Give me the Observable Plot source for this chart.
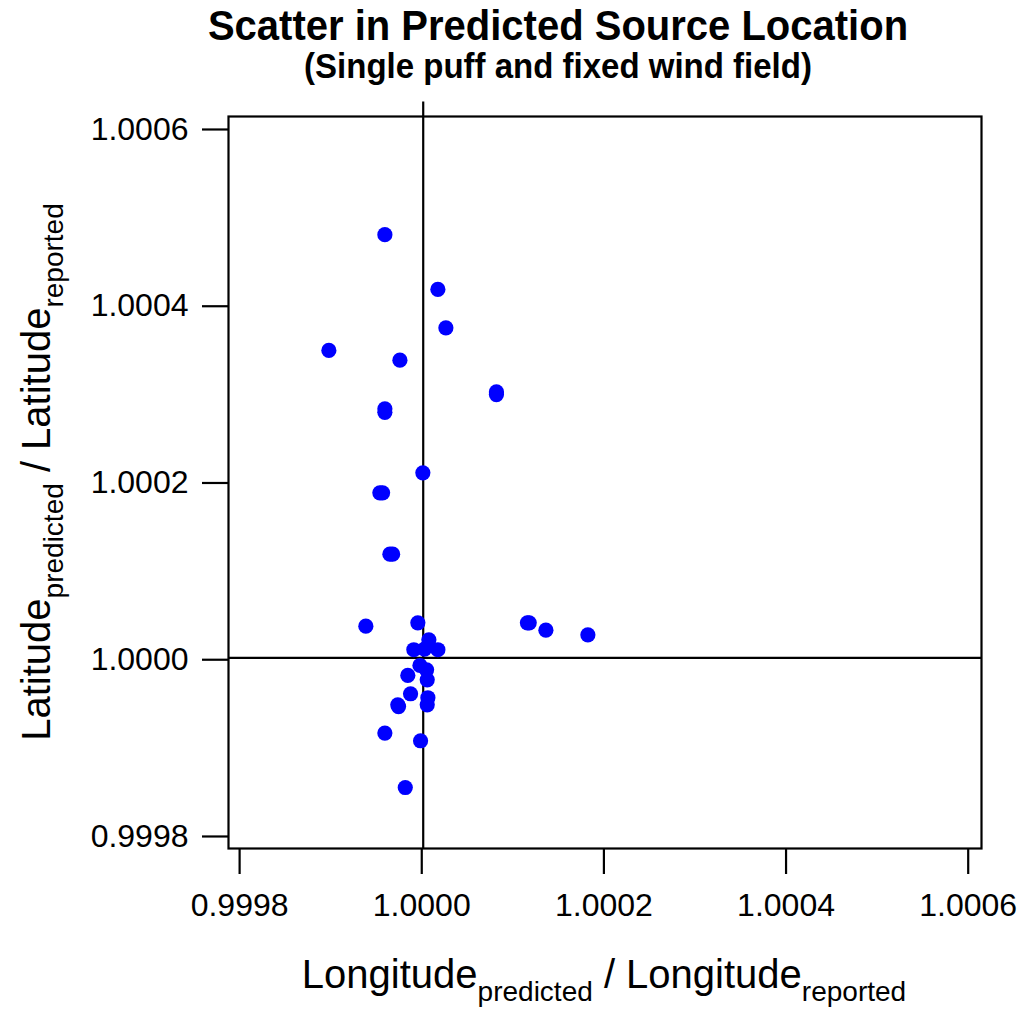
<!DOCTYPE html>
<html>
<head>
<meta charset="utf-8">
<script src="https://cdn.jsdelivr.net/npm/d3@7"></script>
<script src="https://cdn.jsdelivr.net/npm/@observablehq/plot@0.6"></script>
<style>
  html, body { margin: 0; padding: 0; background: #ffffff; }
  #wrap { position: relative; width: 1024px; height: 1014px; overflow: hidden; font-family: "Liberation Sans", Arial, sans-serif; }
  #head { position: relative; width: 1024px; height: 90px; }
  .t { position: absolute; left: 0; width: 1024px; box-sizing: border-box; padding-left: 92px; text-align: center; font-weight: bold; color: #000; white-space: nowrap; }
  #title { top: 5px; font-size: 40px; line-height: 40px; transform: scaleY(1.06); }
  #subtitle { top: 49px; font-size: 33px; line-height: 33px; transform: scaleY(1.06); }
  #chart svg { display: block; }
</style>
</head>
<body>
<div id="wrap">
  <div id="head">
    <div class="t" id="title">Scatter in Predicted Source Location</div>
    <div class="t" id="subtitle">(Single puff and fixed wind field)</div>
  </div>
  <div id="chart"></div>
</div>
<script>
// Longitude_predicted / Longitude_reported for each trial
const lonRatio = [
  0.9999595, 1.0000177, 1.0000265, 0.9998980, 0.9999760,
  0.9999595, 0.9999595, 1.0000820, 1.0000820, 1.0000012,
  0.9999540, 0.9999570, 0.9999650, 0.9999680, 0.9999386,
  0.9999957, 1.0001160, 1.0001180, 1.0001363, 1.0001824,
  1.0000078, 0.9999913, 1.0000177, 1.0000030, 0.9999980,
  1.0000053, 0.9999847, 1.0000060, 0.9999877, 1.0000067,
  1.0000060, 0.9999737, 0.9999745, 0.9999595, 0.9999987,
  0.9999819
];
// Latitude_predicted / Latitude_reported for each trial
const latRatio = [
  1.0004810, 1.0004190, 1.0003756, 1.0003500, 1.0003390,
  1.0002800, 1.0002840, 1.0003000, 1.0003030, 1.0002115,
  1.0001889, 1.0001889, 1.0001194, 1.0001194, 1.0000380,
  1.0000418, 1.0000418, 1.0000418, 1.0000334, 1.0000282,
  1.0000226, 1.0000113, 1.0000113, 1.0000120, 0.9999935,
  0.9999886, 0.9999822, 0.9999773, 0.9999615, 0.9999570,
  0.9999490, 0.9999490, 0.9999470, 0.9999170, 0.9999083,
  0.9998554
];
// reference cross-hair lines
const refLon = [1.0000016];
const refLat = [1.0000020];
// axis ticks
const xTicks = [0.9998, 1.0000, 1.0002, 1.0004, 1.0006];
const yTicks = [0.9998, 1.0000, 1.0002, 1.0004, 1.0006];
const xDomain = [0.9997878, 1.0006146];
const yDomain = [0.9997864, 1.0006147];
const refLonTop = 1.000631;

const points = lonRatio.map((lon, i) => ({lon, lat: latRatio[i]}));
const fmt = d3.format(".4f");

const svgH = 924;
const chart = Plot.plot({
  width: 1024,
  height: svgH,
  marginLeft: 228,
  marginRight: 43,
  marginTop: 26,
  marginBottom: 166,
  x: {domain: xDomain},
  y: {domain: yDomain},
  style: {fontFamily: "'Liberation Sans', Arial, sans-serif", fontSize: "32px", color: "#000", background: "#fff", overflow: "visible"},
  marks: [
    Plot.axisX({ticks: xTicks, tickFormat: fmt, tickSize: 26, tickPadding: 19, strokeWidth: 2.2, label: null, fontSize: 32}),
    Plot.axisY({ticks: yTicks, tickFormat: fmt, tickSize: 26, tickPadding: 14, strokeWidth: 2.2, label: null, fontSize: 32}),
    Plot.ruleY(refLat, {stroke: "#000", strokeWidth: 2.2}),
    Plot.ruleX(refLon, {y1: refLonTop, y2: yDomain[0], stroke: "#000", strokeWidth: 2.2}),
    Plot.frame({stroke: "#000", strokeWidth: 2.2}),
    Plot.dot(points, {x: "lon", y: "lat", r: 7.6, fill: "#0000ff", stroke: "none"})
  ]
});

const svg = d3.select(chart);
const fontFam = "'Liberation Sans', Arial, sans-serif";
// x axis title with subscripts
const xl = svg.append("text")
  .attr("x", 604).attr("y", 898)
  .attr("text-anchor", "middle")
  .attr("font-family", fontFam)
  .attr("font-size", 40)
  .attr("fill", "#000");
xl.append("tspan").text("Longitude");
xl.append("tspan").attr("font-size", 28).attr("dy", 13).text("predicted");
xl.append("tspan").attr("dy", -13).text(" / Longitude");
xl.append("tspan").attr("font-size", 28).attr("dy", 13).text("reported");

// y axis title with subscripts
const yl = svg.append("text")
  .attr("transform", "translate(50,382) rotate(-90)")
  .attr("text-anchor", "middle")
  .attr("font-family", fontFam)
  .attr("font-size", 40)
  .attr("fill", "#000");
yl.append("tspan").text("Latitude");
yl.append("tspan").attr("font-size", 28).attr("dy", 13).text("predicted");
yl.append("tspan").attr("dy", -13).text(" / Latitude");
yl.append("tspan").attr("font-size", 28).attr("dy", 13).text("reported");

document.getElementById("chart").appendChild(chart);
</script>
</body>
</html>
